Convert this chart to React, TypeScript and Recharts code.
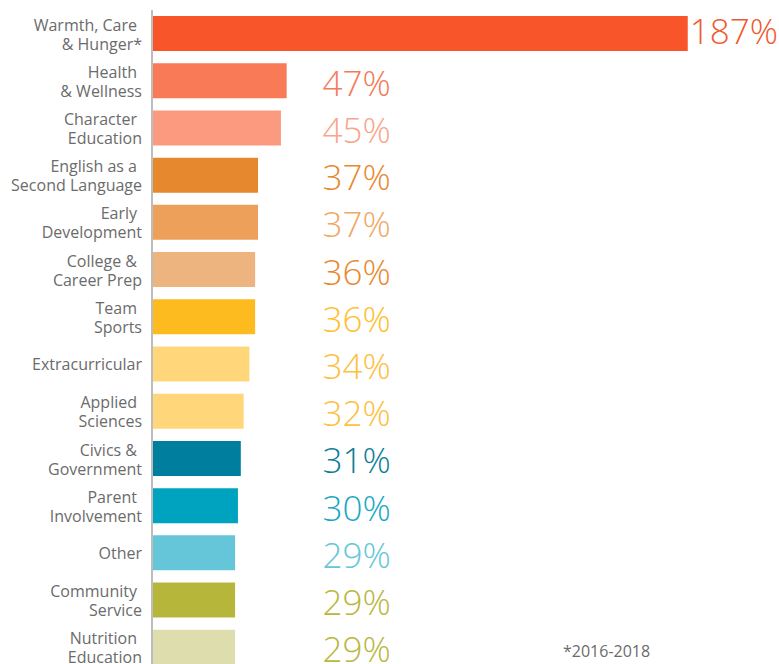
import { BarChart, Bar, XAxis, YAxis, Cell, LabelList } from 'recharts';

const categories = [
  'Warmth, Care|& Hunger*',
  'Health|& Wellness',
  'Character|Education',
  'English as a|Second Language',
  'Early|Development',
  'College &|Career Prep',
  'Team|Sports',
  'Extracurricular',
  'Applied|Sciences',
  'Civics &|Government',
  'Parent|Involvement',
  'Other',
  'Community|Service',
  'Nutrition|Education',
];

const values = [187, 47, 45, 37, 37, 36, 36, 34, 32, 31, 30, 29, 29, 29];

const barColors = [
  '#F9552B', '#F97A56', '#FB9A7E', '#E6882D', '#ECA05A', '#EDB47F', '#FDBB1F',
  '#FFD77A', '#FFD77A', '#007E9D', '#00A3BF', '#66C6D9', '#B6B73A', '#DEDDAE',
];

const labelColors = [
  '#F05A30', '#F47A58', '#F9A58C', '#E8892F', '#F0A866', '#E8892F', '#FDC12F',
  '#FDC040', '#FDC040', '#0C7E98', '#17A8C3', '#66C6D9', '#B8B83F', '#B8B83F',
];

// small values get their label in a fixed column (in data units)
const LABEL_COLUMN = 59.5;

const data = categories.map((name, i) => ({ name, value: values[i] }));

const FONT = '"Open Sans", sans-serif';

function CategoryTick(props: any) {
  const { x, y, payload } = props;
  const lines: string[] = String(payload.value).split('|');
  if (lines.length === 1) {
    return (
      <text x={x} y={y + 6} textAnchor="end" fill="#6b6b6b" fontSize={16} fontFamily={FONT}>
        {lines[0]}
      </text>
    );
  }
  return (
    <text textAnchor="end" fill="#6b6b6b" fontSize={16} fontFamily={FONT}>
      <tspan x={x - 5} y={y - 3}>{lines[0]}</tspan>
      <tspan x={x} y={y + 16}>{lines[1]}</tspan>
    </text>
  );
}

function ValueLabel(props: any) {
  const { x, y, width, height, value, index } = props;
  const big = value > LABEL_COLUMN;
  const tx = big ? x + width + 2 : x + (width / value) * LABEL_COLUMN;
  const ty = y + height / 2 + (big ? 10 : 15);
  return (
    <text
      x={tx}
      y={ty}
      fill={labelColors[index]}
      fontSize={35}
      fontWeight={300}
      fontFamily={FONT}
      textAnchor="start"
    >
      {value}%
    </text>
  );
}

export default function App() {
  return (
    <div
      style={{
        position: 'fixed',
        left: 0,
        top: 0,
        width: 779,
        height: 664,
        overflow: 'hidden',
        background: '#fff',
      }}
    >
      <BarChart
        width={779}
        height={672}
        data={data}
        layout="vertical"
        margin={{ top: 10, right: 54, bottom: 1, left: 0 }}
      >
        <XAxis type="number" domain={[0, 200]} hide />
        <YAxis
          type="category"
          dataKey="name"
          width={152}
          tickLine={false}
          tickSize={0}
          tickMargin={10}
          axisLine={{ stroke: '#bdbdbd', strokeWidth: 2 }}
          tick={<CategoryTick />}
          interval={0}
        />
        <Bar dataKey="value" barSize={35} isAnimationActive={false}>
          {data.map((_, i) => (
            <Cell key={i} fill={barColors[i]} />
          ))}
          <LabelList dataKey="value" content={<ValueLabel />} />
        </Bar>
      </BarChart>
      <div
        style={{
          position: 'absolute',
          left: 563,
          top: 640,
          fontFamily: FONT,
          fontSize: 16,
          color: '#6b6b6b',
          lineHeight: '22px',
        }}
      >
        *2016-2018
      </div>
    </div>
  );
}
